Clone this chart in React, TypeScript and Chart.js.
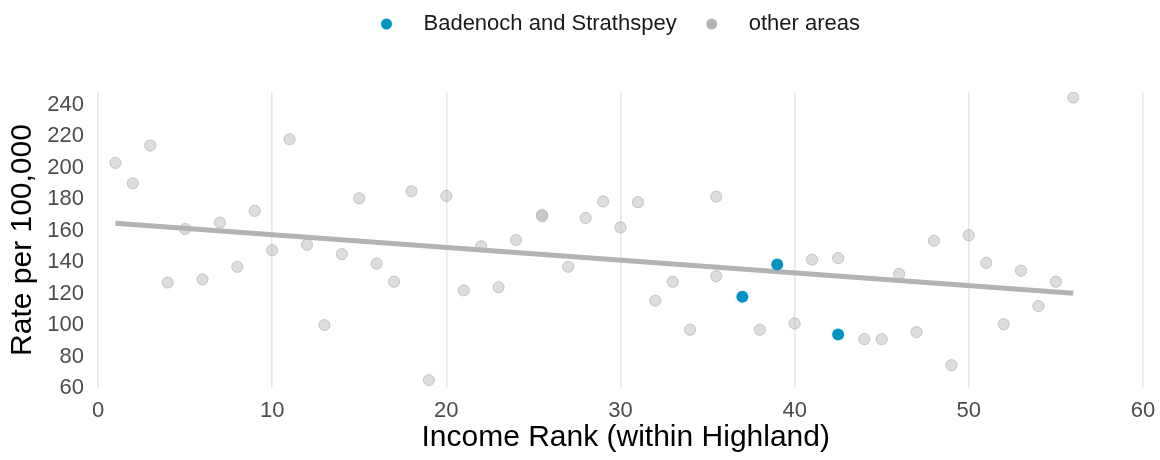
import React, { useEffect, useRef } from "react";
import { Chart, registerables } from "chart.js";

Chart.register(...registerables);

const FONT = "'Liberation Sans', Arial, Helvetica, sans-serif";

// Other areas: income rank (within Highland) and rate per 100,000
const otherRanks = [
  1, 2, 3, 4, 5, 6, 7, 8, 9, 10, 11, 12, 13, 14, 15, 16, 17, 18, 19, 20, 21, 22, 23, 24,
  25.5, 25.5, 27, 28, 29, 30, 31, 32, 33, 34, 35.5, 35.5, 38, 40, 41, 42.5, 44, 45, 46, 47,
  48, 49, 50, 51, 52, 53, 54, 55, 56,
];
const otherRates = [
  203, 190, 214, 127, 161, 129, 165, 137, 172.5, 147.5, 218, 151, 100, 145, 180.5, 139, 127.5,
  185, 65, 182, 122, 150, 124, 154, 170, 169, 137, 168, 178.5, 162, 178, 115.5, 127.5, 97,
  181.5, 131, 97, 101, 141.5, 142.5, 91, 91, 132.5, 95.5, 153.5, 74.5, 157, 139.5, 100.5,
  134.5, 112, 127.5, 244.5,
];

// Badenoch and Strathspey
const bsRanks = [37, 39, 42.5];
const bsRates = [118, 138.5, 94];

// Trend line end points
const trendRanks = [1, 56];
const trendRates = [164.7, 120.2];

const xTicks = [0, 10, 20, 30, 40, 50, 60];
const yTicks = [60, 80, 100, 120, 140, 160, 180, 200, 220, 240];

const BLUE = "#0093c4";
const GREY = "#b3b3b3";

const legendItems = [
  { label: "Badenoch and Strathspey", color: BLUE },
  { label: "other areas", color: GREY },
];

export default function App() {
  const ref = useRef<HTMLCanvasElement>(null);

  useEffect(() => {
    document.body.style.margin = "0";
    if (!ref.current) return;

    const legendPlugin = {
      id: "topLegend",
      afterDraw(chart: any) {
        const ctx = chart.ctx as CanvasRenderingContext2D;
        const xs = chart.scales.x;
        const cx = (xs.getPixelForValue(xTicks[0]) + xs.getPixelForValue(xTicks[xTicks.length - 1])) / 2;
        const r = 5.5;
        const dotToText = 37;
        const textToDot = 35;
        ctx.save();
        ctx.font = `22px ${FONT}`;
        const widths = legendItems.map((it) => ctx.measureText(it.label).width);
        let total = r;
        widths.forEach((w, i) => {
          total += dotToText + w;
          if (i < widths.length - 1) total += textToDot;
        });
        let x = cx - total / 2 + r;
        const y = 24;
        legendItems.forEach((it, i) => {
          ctx.beginPath();
          ctx.arc(x, y, r, 0, Math.PI * 2);
          ctx.fillStyle = it.color;
          ctx.fill();
          ctx.fillStyle = "#1a1a1a";
          ctx.textAlign = "left";
          ctx.textBaseline = "middle";
          ctx.fillText(it.label, x + dotToText, y);
          x += dotToText + widths[i] + textToDot;
        });
        ctx.restore();
      },
    };

    const chart = new Chart(ref.current, {
      type: "scatter",
      data: {
        datasets: [
          {
            label: "Badenoch and Strathspey",
            data: bsRanks.map((x, i) => ({ x, y: bsRates[i] })),
            backgroundColor: BLUE,
            borderColor: BLUE,
            borderWidth: 0,
            pointRadius: 6,
            order: 0,
          },
          {
            type: "line",
            label: "trend",
            data: trendRanks.map((x, i) => ({ x, y: trendRates[i] })),
            borderColor: GREY,
            borderWidth: 5,
            pointRadius: 0,
            fill: false,
            order: 1,
          } as any,
          {
            label: "other areas",
            data: otherRanks.map((x, i) => ({ x, y: otherRates[i] })),
            backgroundColor: "rgba(179,179,179,0.45)",
            borderColor: "rgba(170,170,170,0.6)",
            borderWidth: 1,
            pointRadius: 5.6,
            order: 2,
          },
        ],
      },
      options: {
        responsive: false,
        animation: false,
        layout: { padding: { top: 92, right: 0, bottom: 0, left: 0 } },
        plugins: {
          legend: { display: false },
          tooltip: { enabled: false },
        },
        scales: {
          x: {
            type: "linear",
            min: 0,
            max: 60.6,
            afterBuildTicks: (axis: any) => {
              axis.ticks = xTicks.map((v) => ({ value: v }));
            },
            afterFit: (axis: any) => {
              axis.height = 72;
              axis.paddingRight = 0;
              axis.paddingLeft = 0;
            },
            grid: { display: true, color: "#e6e6e6", lineWidth: 1.5, drawTicks: false },
            border: { display: false },
            ticks: {
              padding: 10,
              color: "#4d4d4d",
              font: { family: FONT, size: 22 },
            },
            title: {
              display: true,
              text: "Income Rank (within Highland)",
              color: "#000",
              font: { family: FONT, size: 30 },
              padding: { top: 0, bottom: 4 },
            },
          },
          y: {
            type: "linear",
            min: 60,
            max: 248,
            afterBuildTicks: (axis: any) => {
              axis.ticks = yTicks.map((v) => ({ value: v }));
            },
            afterFit: (axis: any) => {
              axis.width = 98;
              axis.paddingTop = 0;
              axis.paddingBottom = 0;
            },
            grid: { display: false, drawTicks: false },
            border: { display: false },
            ticks: {
              padding: 14,
              color: "#4d4d4d",
              font: { family: FONT, size: 22 },
            },
            title: {
              display: true,
              text: "Rate per 100,000",
              color: "#000",
              font: { family: FONT, size: 30 },
              padding: { top: 5, bottom: 0 },
            },
          },
        },
      },
      plugins: [legendPlugin],
    });

    return () => chart.destroy();
  }, []);

  return (
    <div style={{ width: 1160, height: 460 }}>
      <canvas ref={ref} width={1160} height={460} style={{ width: 1160, height: 460, display: "block" }} />
    </div>
  );
}
